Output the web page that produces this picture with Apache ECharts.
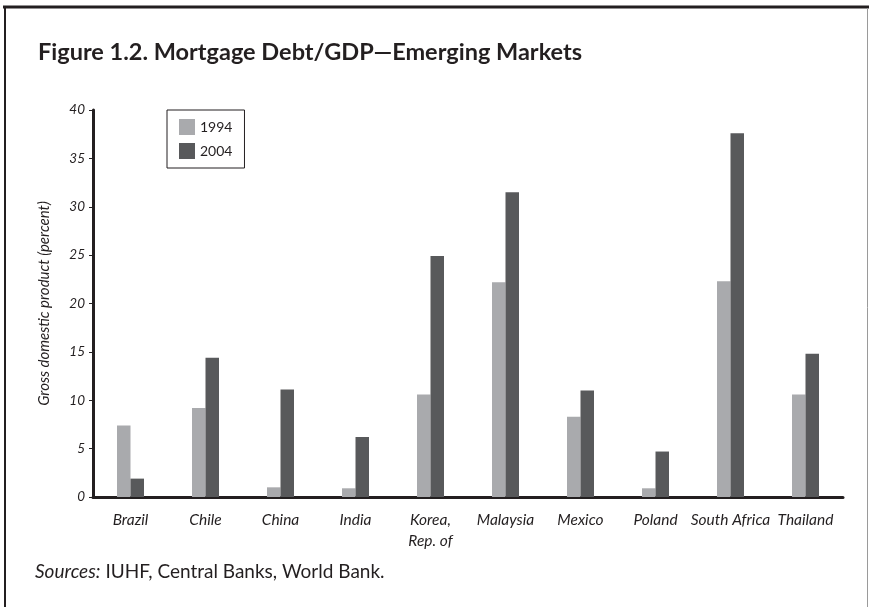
<!DOCTYPE html>
<html>
<head>
<meta charset="utf-8">
<script src="https://cdn.jsdelivr.net/npm/echarts@6/dist/echarts.min.js"></script>
<style>
html,body{margin:0;padding:0;background:#fff;}
#chart{width:869px;height:607px;}
</style>
</head>
<body>
<div id="chart"></div>
<script>
const categories = ['Brazil','Chile','China','India','Korea,\nRep. of','Malaysia','Mexico','Poland','South Africa','Thailand'];
const values1994 = [7.4, 9.2, 1.0, 0.9, 10.6, 22.2, 8.3, 0.9, 22.3, 10.6];
const values2004 = [1.9, 14.4, 11.1, 6.2, 24.9, 31.5, 11.0, 4.7, 37.6, 14.8];
const seriesNames = ['1994', '2004'];
const yTicks = {min: 0, max: 40, interval: 5};

const FONT = 'Lato, "Open Sans", sans-serif';
const chart = echarts.init(document.getElementById('chart'), null, {renderer: 'canvas'});
chart.setOption({
  backgroundColor: '#fff',
  animation: false,
  title: {
    text: 'Figure 1.2. Mortgage Debt/GDP\u2014Emerging Markets',
    left: 33, top: 35,
    textStyle: {fontFamily: FONT, fontWeight: 'bold', fontSize: 23.5, color: '#231f20'}
  },
  legend: {
    data: seriesNames,
    orient: 'vertical',
    left: 167, top: 110,
    icon: 'rect',
    itemWidth: 16, itemHeight: 16, itemGap: 8,
    padding: [9, 12, 9, 12],
    borderColor: '#231f20', borderWidth: 1,
    textStyle: {fontFamily: FONT, fontSize: 14, color: '#231f20'}
  },
  grid: {left: 93, right: 26, top: 110, bottom: 110, containLabel: false},
  xAxis: {
    type: 'category',
    data: categories,
    axisLine: {lineStyle: {color: '#231f20', width: 3}},
    axisTick: {show: false},
    axisLabel: {fontFamily: FONT, fontStyle: 'italic', fontSize: 15.5, color: '#231f20', margin: 12, interval: 0, lineHeight: 21}
  },
  yAxis: {
    type: 'value',
    min: yTicks.min, max: yTicks.max, interval: yTicks.interval,
    name: 'Gross domestic product (percent)',
    nameLocation: 'middle', nameGap: 41, nameRotate: 90,
    nameTextStyle: {fontFamily: FONT, fontStyle: 'italic', fontSize: 15, color: '#231f20'},
    axisLine: {show: true, lineStyle: {color: '#231f20', width: 3}},
    axisTick: {show: true, length: 4, lineStyle: {color: '#231f20', width: 1}},
    splitLine: {show: false},
    axisLabel: {fontFamily: FONT, fontStyle: 'italic', fontSize: 13.5, color: '#231f20', margin: 8}
  },
  series: [
    {name: seriesNames[0], type: 'bar', data: values1994, barWidth: 13.5, barGap: '0%', itemStyle: {color: '#a9aaad'}},
    {name: seriesNames[1], type: 'bar', data: values2004, barWidth: 13.5, barGap: '0%', itemStyle: {color: '#58595b'}}
  ],
  graphic: [
    {type: 'line', shape: {x1: 3, y1: 7, x2: 869, y2: 7}, style: {stroke: '#231f20', lineWidth: 3}},
    {type: 'line', shape: {x1: 5, y1: 6, x2: 5, y2: 607}, style: {stroke: '#231f20', lineWidth: 2}},
    {type: 'line', shape: {x1: 867.5, y1: 8, x2: 867.5, y2: 607}, style: {stroke: '#9a9a9a', lineWidth: 1}},
    {type: 'text', left: 35, top: 562, style: {
      text: '{i|Sources:} IUHF, Central Banks, World Bank.',
      font: '19px ' + FONT, fill: '#231f20',
      rich: {i: {fontFamily: FONT, fontStyle: 'italic', fontSize: 19, fill: '#231f20'}}
    }}
  ]
});
</script>
</body>
</html>
